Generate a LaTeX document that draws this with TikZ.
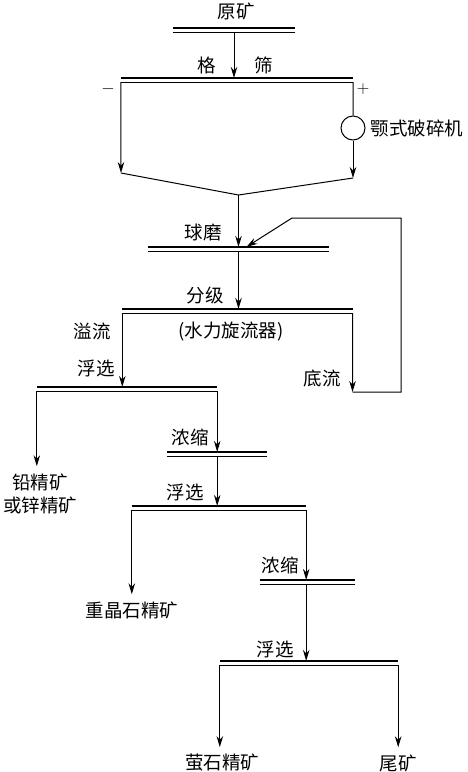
\documentclass[tikz,border=0pt]{standalone}
\usepackage{fontspec}
\setmainfont{Noto Sans CJK SC}
\usetikzlibrary{arrows.meta,calc,positioning}
\tikzset{bar/.style={rectangle,inner sep=0pt,minimum height=3.8pt,minimum width=#1,append after command={(\tikzlastnode.north west) edge[line width=2pt] (\tikzlastnode.north east) (\tikzlastnode.south west) edge[line width=1pt] (\tikzlastnode.south east)}},flow/.style={-{Stealth[length=11pt,width=6.5pt]},line width=1pt},pipe/.style={line width=1pt},lbl/.style={font=\fontsize{18.5}{23}\selectfont,inner sep=0pt,align=center},product/.style={lbl,inner xsep=0pt,inner ysep=7pt}}

\begin{document}
\begin{tikzpicture}[x=1pt,y=-1pt]
        \useasboundingbox (0,0) rectangle (468,772);
        % bars
        \node[bar=122pt] (feed) at (234,30.5){};
        \node[bar=232pt] (screen) at (237,80){};
        \node[bar=180pt] (mill) at (238.5,249){};
        \node[bar=230pt] (classify) at (237.5,311){};
        \node[bar=180pt] (float1) at (127,389){};
        \node[bar=100pt] (thick1) at (217,454){};
        \node[bar=174pt] (float2) at (219,508){};
        \node[bar=95pt] (thick2) at (307.5,582){};
        \node[bar=178pt] (float3) at (309,663){};
        \node[circle,draw,line width=1pt,minimum size=24pt,inner sep=0pt] (crush) at (353,128){};
        % labels
        \node[lbl] (ore) at (236,11){原矿};
        \node[lbl] (screenlbl) at (235,65){格\hspace{39pt}筛};
        \node[lbl] (minus) at (108,89){$-$};
        \node[lbl] (plus) at (363,89){$+$};
        \node[lbl,right=5pt of crush] (crushlbl){颚式破碎机};
        \node[lbl] (milllbl) at (203,233){球磨};
        \node[lbl] (classlbl) at (205,295){分级};
        \node[lbl] (cyclone) at (231,332){(水力旋流器)};
        \node[lbl] (overflow) at (92,331){溢流};
        \node[lbl] (underflow) at (322,378){底流};
        \node[lbl] (float1lbl) at (96,368){浮选};
        \node[lbl] (thick1lbl) at (190,437){浓缩};
        \node[lbl] (float2lbl) at (185,492){浮选};
        \node[lbl] (thick2lbl) at (280,565){浓缩};
        \node[lbl] (float3lbl) at (275,649){浮选};
        \node[product] (leadzinc) at (40,493.5){铅精矿\\或锌精矿};
        \node[product] (barite) at (132,610){重晶石精矿};
        \node[product] (fluorite) at (222,763){萤石精矿};
        \node[product] (tails) at (398,763){尾矿};
        \coordinate (lhit) at (121,173);
        \coordinate (rhit) at (353,178);
        \coordinate (merge) at (238.5,195);
        \coordinate (uf) at (352.5,392);
        \coordinate (ret1) at (401,392);
        \coordinate (ret2) at (401,218);
        \coordinate (ret3) at (292,218);
        % flows
        \draw[flow](feed.south)--(feed.south|-screen.north);
        \draw[flow](screen.south west)--(lhit);
        \draw[pipe](screen.south east)--(crush);
        \draw[flow](crush)--(rhit);
        \draw[pipe](lhit)--(merge)--(rhit);
        \draw[flow](merge)--(mill);
        \draw[flow](uf)--(ret1)--(ret2)--(ret3)--([xshift=8pt]mill.north);
        \draw[flow](mill.south)--(mill.south|-classify.north);
        \draw[flow](classify.south east)--(uf);
        \draw[flow](classify.south west)--(classify.south west|-float1.north);
        \draw[flow](float1.south west)--(float1.south west|-leadzinc.north);
        \draw[flow](float1.south east)--(float1.south east|-thick1.north);
        \draw[flow](float1.south east|-thick1.south)--(float1.south east|-float2.north);
        \draw[flow](float2.south west)--(float2.south west|-barite.north);
        \draw[flow](float2.south east)--(float2.south east|-thick2.north);
        \draw[flow](float2.south east|-thick2.south)--(float2.south east|-float3.north);
        \draw[flow](float3.south west)--(float3.south west|-fluorite.north);
        \draw[flow](float3.south east)--(float3.south east|-tails.north);
      \end{tikzpicture}
\end{document}
